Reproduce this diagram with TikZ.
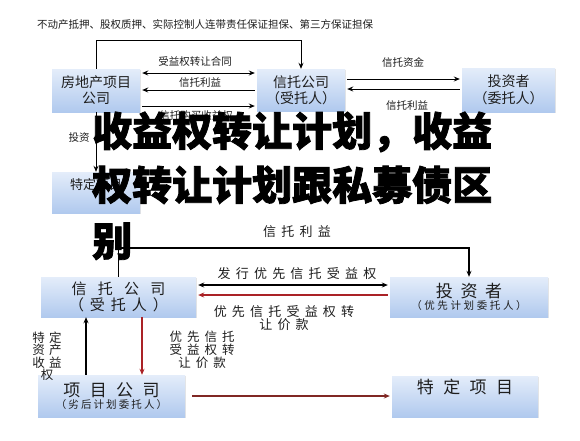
\documentclass[tikz,border=0pt]{standalone}
\usepackage{fontspec}
\setmainfont{Noto Sans CJK SC}
\usetikzlibrary{arrows.meta,shadows}

\definecolor{boxtop}{RGB}{228,237,250}
\definecolor{boxbot}{RGB}{176,201,238}
\definecolor{ink}{RGB}{30,30,30}
\definecolor{darkred}{RGB}{170,34,38}
\definecolor{brownred}{RGB}{128,40,36}

\tikzset{
  box/.style={rectangle, top color=boxtop, bottom color=boxbot, align=center, text=ink,
    inner sep=0pt, drop shadow={opacity=0.2, shadow xshift=1pt, shadow yshift=-1pt}},
  lbl/.style={text=ink, inner sep=0pt, align=center},
  arr/.style={-{Stealth[length=6pt,width=5pt]}, line width=1pt},
  darr/.style={{Stealth[length=6pt,width=5pt]}-{Stealth[length=6pt,width=5pt]}, line width=1pt},
  title/.style={font=\fontsize{40}{40}\selectfont\bfseries\addfontfeature{FakeBold=2}, inner sep=0pt, anchor=base west}
}

\newcommand{\ls}[1]{\addfontfeature{LetterSpace=#1}}

\begin{document}
\begin{tikzpicture}[x=1pt,y=-1pt]
  \fill[white] (0,0) rectangle (580,440);
  \useasboundingbox (0,0) rectangle (580,440);

  % 上图：收益权转让
  \node[lbl, font=\fontsize{10.5}{12}\selectfont] (guar) at (205,25)
    {不动产抵押、股权质押、实际控制人连带责任保证担保、第三方保证担保};

  \node[box, minimum width=88pt, minimum height=43pt, font=\fontsize{14}{16}\selectfont] (fdc) at (96,90.5) {房地产项目\\公司};
  \node[box, minimum width=88pt, minimum height=42pt, font=\fontsize{14}{16}\selectfont] (xt) at (301,90) {信托公司\\（受托人）};
  \node[box, minimum width=93pt, minimum height=44pt, font=\fontsize{14}{17}\selectfont] (tzz) at (508.5,90) {投资者\\（委托人）};
  \node[box, minimum width=88pt, minimum height=41pt, font=\fontsize{13}{18}\selectfont] (tdxm) at (96,192.5) {特定项目\\\mbox{}};

  \coordinate (loop) at (301,40);
  \coordinate (contract) at (0,73);
  \coordinate (ret) at (0,90);
  \coordinate (pay) at (0,106);
  \coordinate (fund) at (0,79);
  \coordinate (back) at (0,89);

  \draw[arr] (fdc.north) |- (loop) -- (xt.north);
  \draw[darr, shorten <=2pt, shorten >=2pt] (fdc.east |- contract) -- (xt.west |- contract);
  \draw[arr, shorten <=2pt, shorten >=2pt] (xt.west |- ret) -- (fdc.east |- ret);
  \draw[arr, shorten <=2pt, shorten >=2pt] (fdc.east |- pay) -- (xt.west |- pay);
  \draw[arr, shorten <=2pt, shorten >=2pt] (xt.east |- fund) -- (tzz.west |- fund);
  \draw[arr, shorten <=2pt, shorten >=2pt] (tzz.west |- back) -- (xt.east |- back);
  \draw[arr] (fdc.south) -- (tdxm.north);

  \node[lbl, font=\fontsize{10.5}{12}\selectfont] (contractlbl) at (195,62) {受益权转让合同};
  \node[lbl, font=\fontsize{10.5}{12}\selectfont] (retlbl) at (200,83) {信托利益};
  \node[lbl, font=\fontsize{10.5}{12}\selectfont] (paylbl) at (196,116) {信托购买收益权};
  \node[lbl, font=\fontsize{10.5}{12}\selectfont] (fundlbl) at (403,62) {信托资金};
  \node[lbl, font=\fontsize{10.5}{12}\selectfont] (backlbl) at (407,106) {信托利益};
  \node[lbl, font=\fontsize{10.5}{12}\selectfont] (invlbl) at (79,138) {投资};

  % 下图：优先/劣后结构
  \node[box, minimum width=155pt, minimum height=40pt, font=\fontsize{15}{16}\selectfont] (xt2) at (118.5,297)
    {{\ls{75}信托公司}\\{\ls{40}（受托人）}};
  \node[box, minimum width=158pt, minimum height=40pt] (tzz2) at (469,297)
    {{\fontsize{17}{19}\selectfont\ls{45}投资者}\\{\fontsize{10.5}{12}\selectfont\ls{25}（优先计划委托人）}};
  \node[box, minimum width=147pt, minimum height=42pt] (xmgs) at (111.5,396)
    {{\fontsize{17}{20}\selectfont\ls{55}项目公司}\\{\fontsize{10.5}{12}\selectfont\ls{20}（劣后计划委托人）}};
  \node[box, minimum width=146pt, minimum height=41pt, font=\fontsize{17}{20}\selectfont] (tdxm2) at (465,396.5)
    {{\ls{55}特定项目}\\\mbox{}};

  \coordinate (top) at (0,248);
  \coordinate (issue) at (0,285);
  \coordinate (price) at (0,295);

  \draw[arr, line width=1.3pt] (xt2.north) |- (tzz2.north |- top) -- (tzz2.north);
  \draw[darr, line width=1.3pt, shorten <=2pt, shorten >=2pt] (xt2.east |- issue) -- (tzz2.west |- issue);
  \draw[arr, line width=1.3pt, darkred, shorten <=2pt, shorten >=2pt] (tzz2.west |- price) -- (xt2.east |- price);
  \draw[arr, line width=1.3pt] ([xshift=-25.5pt]xmgs.north) -- ([xshift=-32.5pt]xt2.south);
  \draw[arr, line width=1.3pt, darkred] ([xshift=23.5pt]xt2.south) -- ([xshift=30.5pt]xmgs.north);
  \draw[arr, line width=1.3pt, brownred, shorten <=7pt, shorten >=2pt] (xmgs.east) -- (tdxm2.west |- xmgs.east);

  \node[lbl, font=\fontsize{13}{14}\selectfont] (toplbl) at (297,232) {\ls{40}信托利益};
  \node[lbl, font=\fontsize{13}{14}\selectfont] (issuelbl) at (297,274) {\ls{40}发行优先信托受益权};
  \node[lbl, font=\fontsize{13}{12}\selectfont] (pricelbl) at (284,318) {\ls{40}优先信托受益权转\\\ls{40}让价款};
  \node[lbl, font=\fontsize{12.5}{12.5}\selectfont] (assetlbl) at (47,356) {\ls{35}特定\\\ls{35}资产\\\ls{35}收益\\权};
  \node[lbl, font=\fontsize{12.5}{13}\selectfont] (sublbl) at (202,350) {\ls{40}优先信托\\\ls{40}受益权转\\\ls{40}让价款};

  % 标题
  \node[title] (t1) at (92,146) {收益权转让计划，收益};
  \node[title] (t2) at (92,200) {权转让计划跟私募债区};
  \node[title] (t3) at (92,256) {别};
\end{tikzpicture}
\end{document}
